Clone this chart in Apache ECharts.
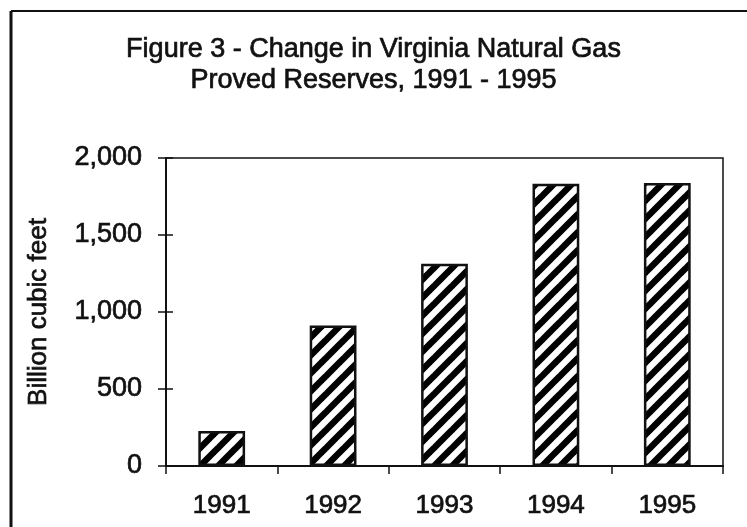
<!DOCTYPE html>
<html>
<head>
<meta charset="utf-8">
<script src="https://cdn.jsdelivr.net/npm/echarts@6/dist/echarts.min.js"></script>
<style>
  html, body { margin: 0; padding: 0; background: #fff; }
  #chart { width: 747px; height: 527px; }
</style>
</head>
<body>
<div id="chart"></div>
<script>
// data
var years = ['1991', '1992', '1993', '1994', '1995'];
var reserves = [227, 912, 1314, 1832, 1838];
var yTicks = [0, 500, 1000, 1500, 2000];

// diagonal hatch tile, "/" stripes
function hatchTile() {
  var s = 18;
  var c = document.createElement('canvas');
  c.width = s; c.height = s;
  var g = c.getContext('2d');
  g.fillStyle = '#fff';
  g.fillRect(0, 0, s, s);
  g.strokeStyle = '#000';
  g.lineWidth = 6.5;
  [[0, s, s, 0], [-s / 2, s / 2, s / 2, -s / 2], [s / 2, s * 1.5, s * 1.5, s / 2]].forEach(function (l) {
    g.beginPath();
    g.moveTo(l[0], l[1]);
    g.lineTo(l[2], l[3]);
    g.stroke();
  });
  return c;
}

var font = '"Liberation Sans", Arial, sans-serif';
// scanned print looks heavier than plain Arial
var ink = { color: '#111', textBorderColor: '#111', textBorderWidth: 0.7 };
var chart = echarts.init(document.getElementById('chart'));

chart.setOption({
  backgroundColor: '#fff',
  animation: false,
  title: {
    text: 'Figure 3 - Change in Virginia Natural Gas\nProved Reserves, 1991 - 1995',
    left: 'center',
    top: 29,
    textStyle: Object.assign({ fontFamily: font, fontSize: 27, fontWeight: 'normal', lineHeight: 31 }, ink)
  },
  graphic: [
    { type: 'line', shape: { x1: 11, y1: 11, x2: 747, y2: 11 }, style: { stroke: '#111', lineWidth: 2 } },
    { type: 'line', shape: { x1: 11, y1: 11, x2: 11, y2: 527 }, style: { stroke: '#111', lineWidth: 3 } }
  ],
  grid: {
    left: 166, right: 24, top: 158, bottom: 61,
    show: true, borderColor: '#111', borderWidth: 1.5
  },
  xAxis: {
    type: 'category',
    data: years,
    axisLine: { lineStyle: { color: '#111', width: 2 } },
    axisTick: { show: true, length: 8, lineStyle: { color: '#111', width: 1.5 } },
    axisLabel: Object.assign({ margin: 27, fontFamily: font, fontSize: 26 }, ink)
  },
  yAxis: [{
    type: 'value',
    min: 0, max: 2000, interval: 500,
    name: 'Billion cubic feet',
    nameLocation: 'middle',
    nameGap: 114,
    nameTextStyle: Object.assign({ fontFamily: font, fontSize: 26 }, ink),
    axisLine: { show: true, lineStyle: { color: '#111', width: 2 } },
    axisTick: { show: true, length: 8, lineStyle: { color: '#111', width: 1.5 } },
    splitLine: { show: false },
    axisLabel: Object.assign({
      margin: 24, fontFamily: font, fontSize: 27,
      formatter: function (v) { return yTicks.indexOf(v) >= 0 ? v.toLocaleString('en-US') : ''; }
    }, ink)
  }, {
    // same scale, inner half of the crossing ticks
    type: 'value',
    position: 'left',
    min: 0, max: 2000, interval: 500,
    axisLine: { show: false },
    axisTick: { show: true, inside: true, length: 7, lineStyle: { color: '#111', width: 1.5 } },
    axisLabel: { show: false },
    splitLine: { show: false }
  }],
  series: [{
    type: 'bar',
    data: reserves,
    barWidth: '42%',
    itemStyle: {
      color: { image: hatchTile(), repeat: 'repeat' },
      borderColor: '#111',
      borderWidth: 2.5
    }
  }]
});
</script>
</body>
</html>
